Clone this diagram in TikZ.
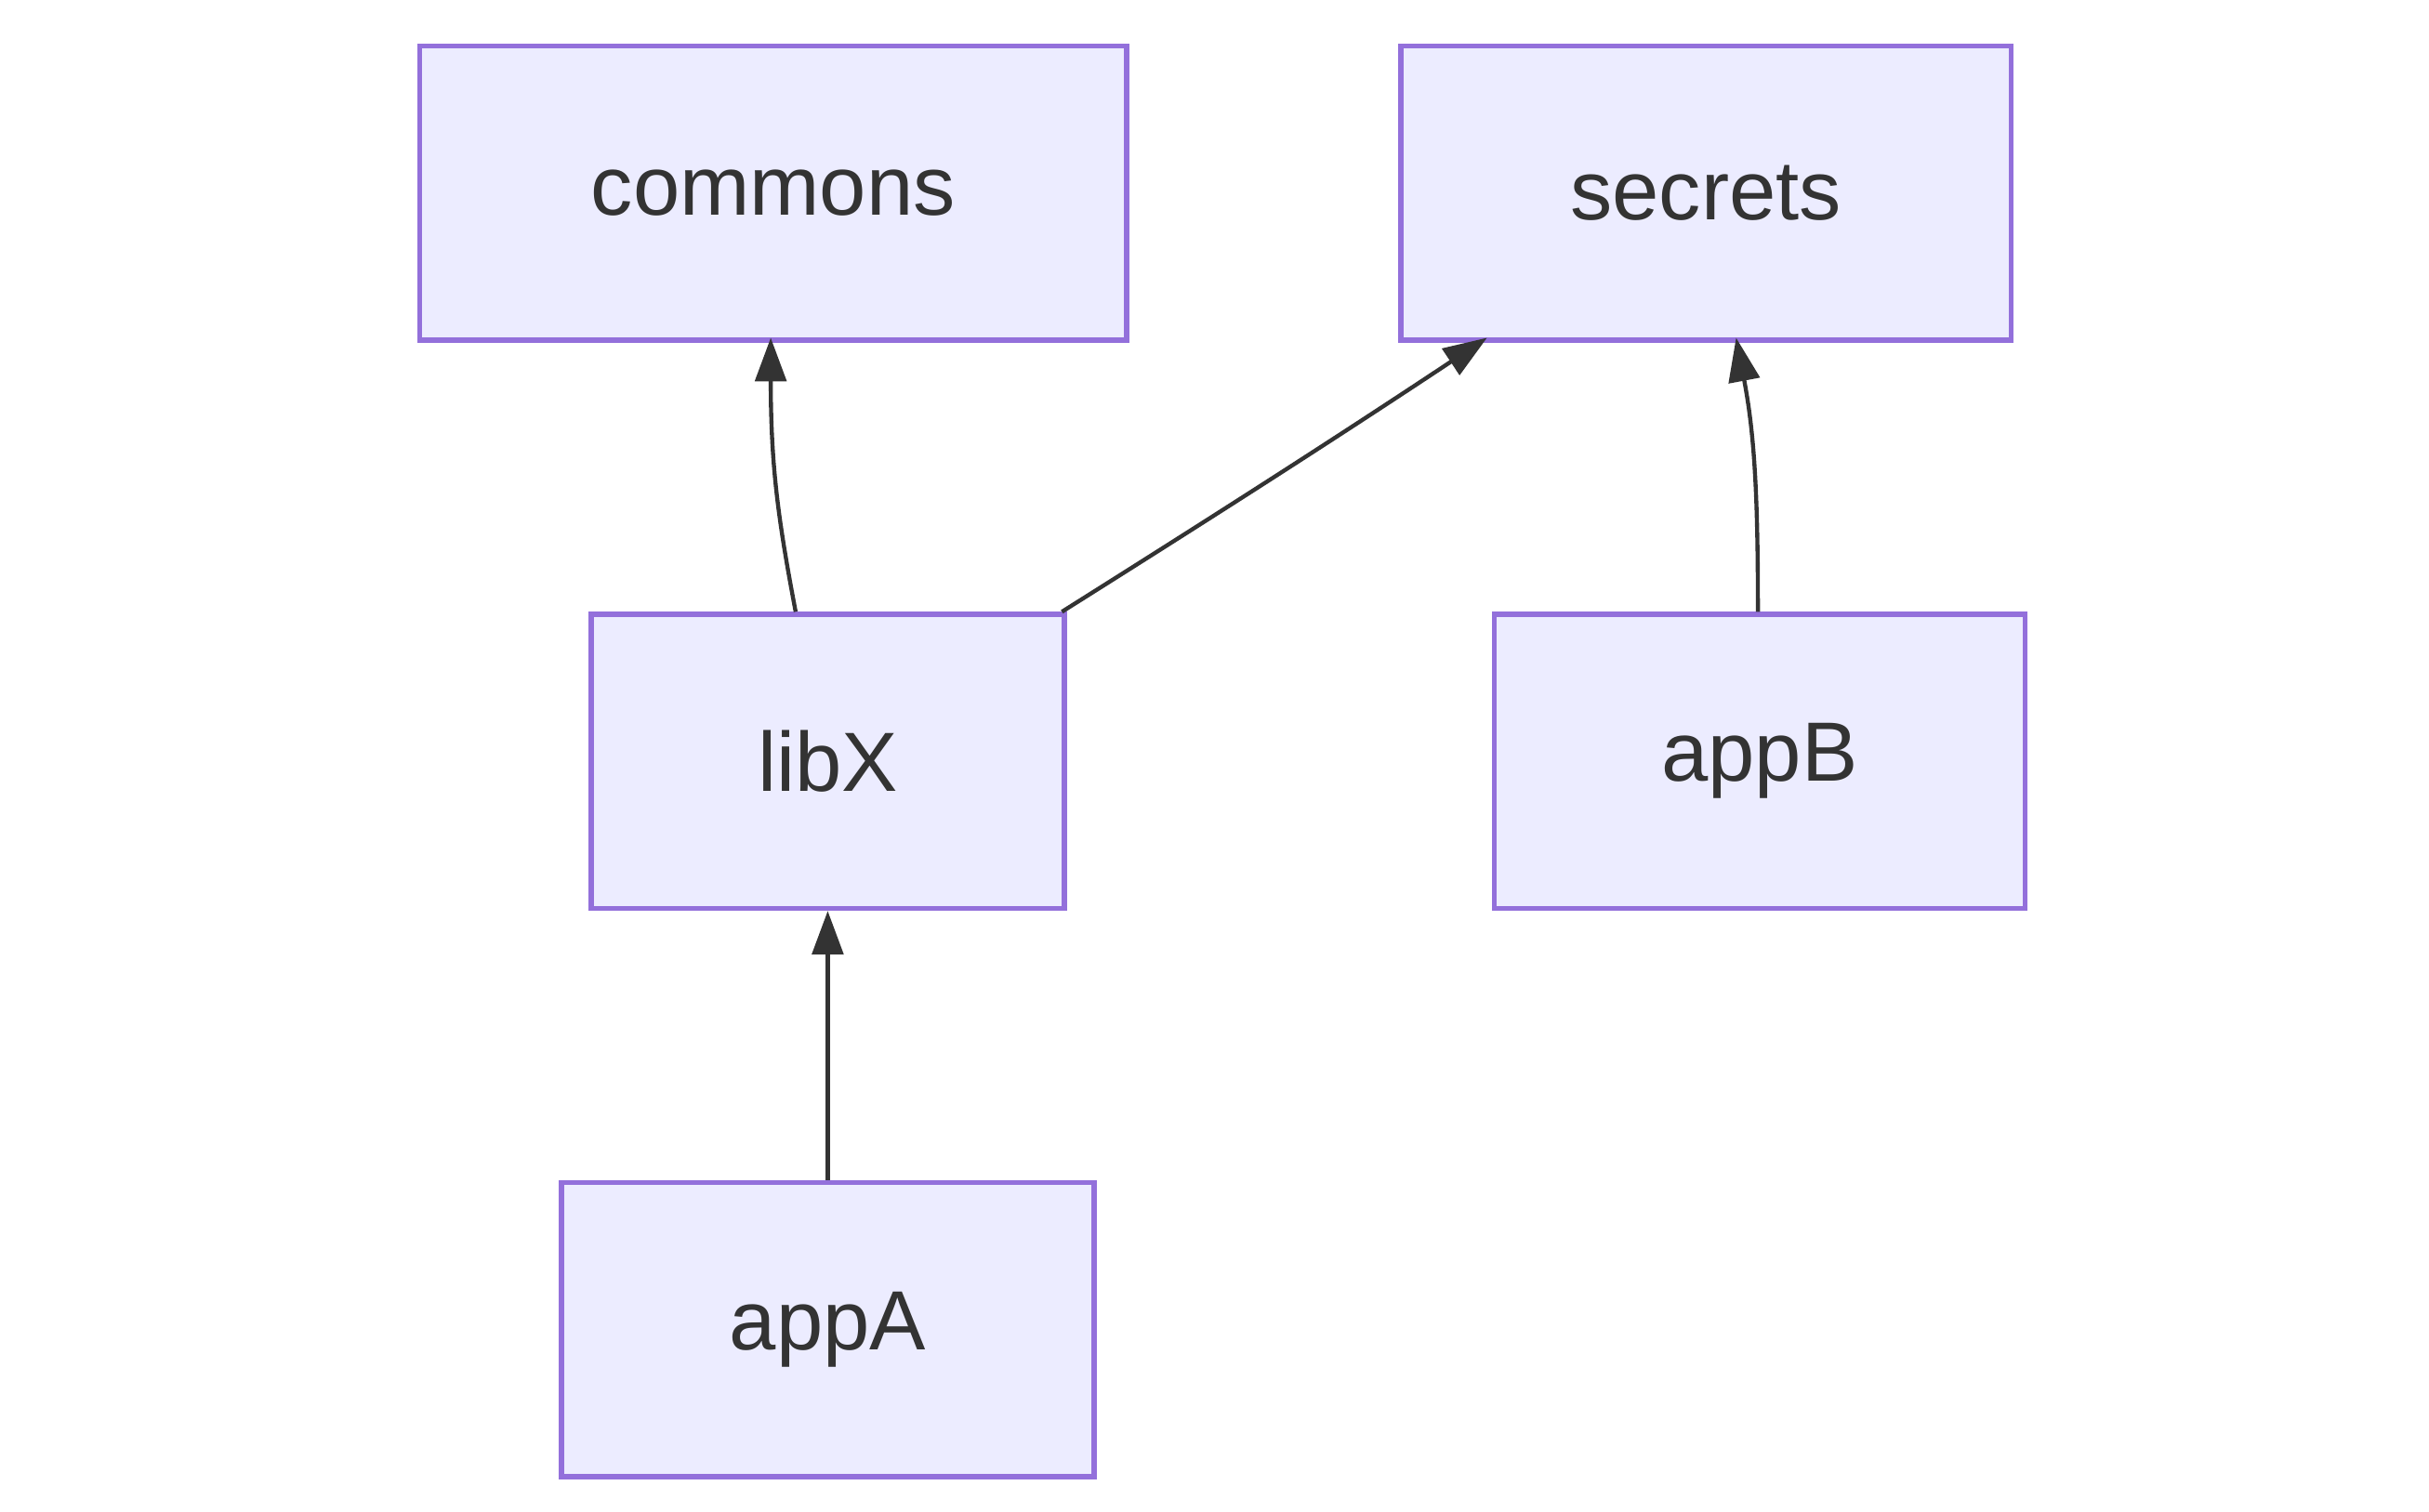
\documentclass[tikz,border=0pt]{standalone}
\usepackage{fontspec}
\setmainfont{Liberation Sans}
\usetikzlibrary{arrows.meta}
\begin{document}
\begin{tikzpicture}[x=0.5pt,y=-0.5pt,
  box/.style={draw=boxline,fill=boxfill,line width=1.6pt,inner sep=0,anchor=north west,text=txt,font=\fontsize{27}{30}\selectfont},
  edge/.style={draw=txt,line width=1.3pt,-{Triangle[length=14pt,width=10pt]}}]
\definecolor{boxline}{HTML}{9370DB}
\definecolor{boxfill}{HTML}{ECECFF}
\definecolor{txt}{HTML}{333333}
\useasboundingbox (0,0) rectangle (1560,971);
\node[box,minimum width=227pt,minimum height=94.5pt] (commons) at (268,28) {commons};
\node[box,minimum width=196pt,minimum height=94.5pt] (secrets) at (898,28) {secrets};
\node[box,minimum width=152pt,minimum height=94.5pt] (libX) at (378,393) {libX};
\node[box,minimum width=170.5pt,minimum height=94.5pt] (appB) at (958,393) {appB};
\node[box,minimum width=171pt,minimum height=94.5pt] (appA) at (359,758) {appA};
\coordinate (c1) at (511,393);
\coordinate (c2) at (495,217);
\coordinate (s1) at (682,393);
\coordinate (s2) at (955,217);
\coordinate (b1) at (1129,393);
\coordinate (b2) at (1115,217);
\draw[edge] (c1) .. controls (500,335) and (495,300) .. (c2);
\draw[edge] (s1) .. controls (790,325) and (860,280) .. (s2);
\draw[edge] (b1) .. controls (1129,320) and (1127,280) .. (b2);
\draw[edge] (appA.north) -- (libX.south);
\end{tikzpicture}
\end{document}
